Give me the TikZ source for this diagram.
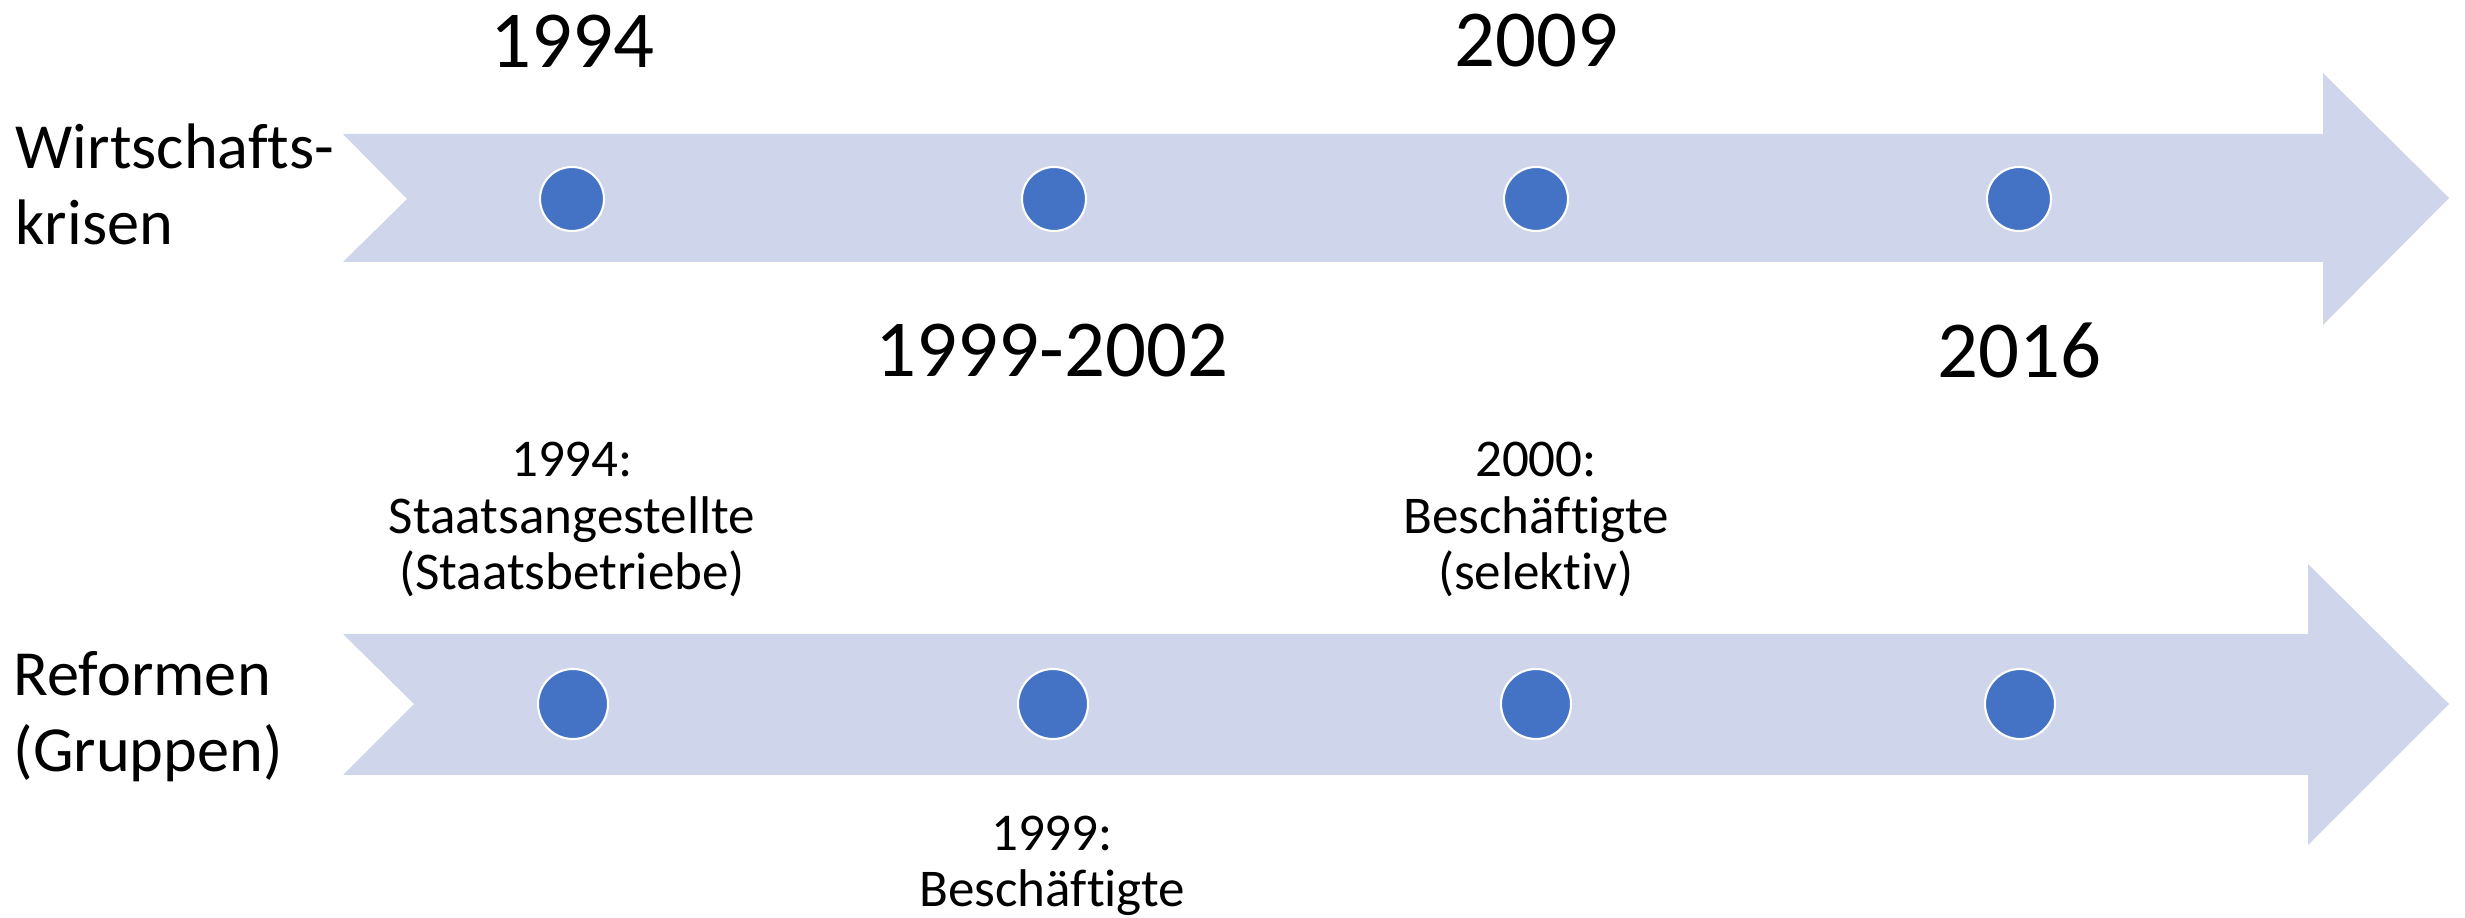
\documentclass[tikz,border=0pt]{standalone}
\usepackage{fontspec}
\setmainfont{Carlito}[Ligatures=NoCommon]
\definecolor{bandblue}{RGB}{207,213,234}
\definecolor{dotblue}{RGB}{68,114,196}

\begin{document}
\begin{tikzpicture}[x=0.1mm,y=-0.1mm,
    band/.style={fill=bandblue},
    dot/.style={circle, fill=dotblue, draw=white, line width=0.6pt, inner sep=0pt},
    year/.style={font=\fontsize{23}{27.6}\selectfont, inner sep=0pt},
    note/.style={font=\fontsize{15.1}{16.2}\selectfont, align=center, inner sep=0pt, anchor=base},
    side/.style={font=\fontsize{18.3}{21.9}\selectfont, align=left, inner sep=0pt, anchor=base west}]
    \useasboundingbox (0,0) rectangle (2465,918);

    % Krisen-Pfeil
    \fill[band] (343,134) -- (2323,134) -- (2323,73) -- (2449,198) -- (2323,325)
        -- (2323,262) -- (343,262) -- (407,199) -- cycle;
    % Reformen-Pfeil
    \fill[band] (343,634) -- (2308,634) -- (2308,564) -- (2449,704) -- (2308,845)
        -- (2308,775) -- (343,775) -- (414,704) -- cycle;

    \node[dot, minimum size=6.4mm] (k1) at (572,199) {};
    \node[dot, minimum size=6.4mm] (k2) at (1054,199) {};
    \node[dot, minimum size=6.4mm] (k3) at (1536,199) {};
    \node[dot, minimum size=6.4mm] (k4) at (2019,199) {};

    \node[dot, minimum size=7mm] (r1) at (573,704) {};
    \node[dot, minimum size=7mm] (r2) at (1053,704) {};
    \node[dot, minimum size=7mm] (r3) at (1536,704) {};
    \node[dot, minimum size=7mm] (r4) at (2020,704) {};

    % base = letzte Zeile
    \node[side] (krisen) at (15,245) {Wirtschafts-\\krisen};
    \node[side] (reformen) at (13,772) {Reformen\\(Gruppen)};

    \node[year] (j1994) at (572,41) {1994};
    \node[year] (j2009) at (1536,41) {2009};
    \node[year] (j1999) at (1052,351) {1999-2002};
    \node[year] (j2016) at (2019,351) {2016};

    \node[note] (n1994) at (572,590) {1994:\\Staatsangestellte\\(Staatsbetriebe)};
    \node[note] (n2000) at (1536,590) {2000:\\Beschäftigte\\(selektiv)};
    \node[note] (n1999) at (1052,907) {1999:\\Beschäftigte};
\end{tikzpicture}
\end{document}
